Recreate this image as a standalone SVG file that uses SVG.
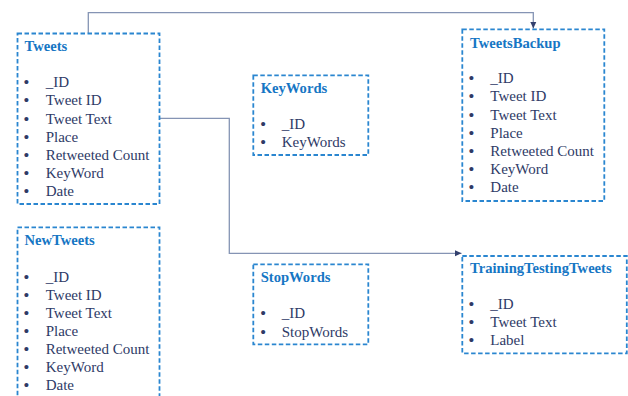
<svg xmlns="http://www.w3.org/2000/svg" width="628" height="396" viewBox="0 0 628 396">
<defs>
<marker id="arr" markerWidth="8" markerHeight="8" refX="7" refY="4" orient="auto" markerUnits="userSpaceOnUse">
<path d="M0,0.8 L7,4 L0,7.2 Z" fill="#33406e"/>
</marker>
<style>
.box{fill:#fff;stroke:#2a86d0;stroke-width:1.8;stroke-dasharray:4.5 2.5}
.title{font-family:"Liberation Serif",serif;font-weight:bold;font-size:14.6px;fill:#1676c4}
.item{font-family:"Liberation Serif",serif;font-size:15px;fill:#2e3a66}
.bul{font-family:"Liberation Serif",serif;font-size:15px;font-weight:bold;fill:#2e3a66;text-anchor:middle}
.conn{fill:none;stroke:#8594b4;stroke-width:1.3}
</style>
</defs>
<rect width="628" height="396" fill="#fff"/>
<g id="connectors">
<path class="conn" d="M88.3,33.5 V12.7 H533.3 V28.5" marker-end="url(#arr)"/>
<path class="conn" d="M159.5,118.3 H229.3 V253.3 H461.5" marker-end="url(#arr)"/>
</g>
<g id="tweets">
<rect class="box" x="17.5" y="33.5" width="142" height="170.5"/>
<text class="title" x="24.5" y="50.7">Tweets</text>
<g class="bul"><text x="26.3" y="87.3">•</text><text x="26.3" y="105.4">•</text><text x="26.3" y="123.5">•</text><text x="26.3" y="141.6">•</text><text x="26.3" y="159.7">•</text><text x="26.3" y="177.8">•</text><text x="26.3" y="195.9">•</text></g>
<g class="item"><text x="45.7" y="87.3">_ID</text><text x="45.7" y="105.4">Tweet ID</text><text x="45.7" y="123.5">Tweet Text</text><text x="45.7" y="141.6">Place</text><text x="45.7" y="159.7">Retweeted Count</text><text x="45.7" y="177.8">KeyWord</text><text x="45.7" y="195.9">Date</text></g>
</g>
<g id="tweetsbackup">
<rect class="box" x="462.3" y="29.3" width="142" height="171.7"/>
<text class="title" x="470" y="47.7">TweetsBackup</text>
<g class="bul"><text x="471.5" y="83.3">•</text><text x="471.5" y="101.4">•</text><text x="471.5" y="119.5">•</text><text x="471.5" y="137.6">•</text><text x="471.5" y="155.7">•</text><text x="471.5" y="173.8">•</text><text x="471.5" y="191.9">•</text></g>
<g class="item"><text x="490.3" y="83.3">_ID</text><text x="490.3" y="101.4">Tweet ID</text><text x="490.3" y="119.5">Tweet Text</text><text x="490.3" y="137.6">Place</text><text x="490.3" y="155.7">Retweeted Count</text><text x="490.3" y="173.8">KeyWord</text><text x="490.3" y="191.9">Date</text></g>
</g>
<g id="keywords">
<rect class="box" x="253.3" y="75.3" width="115" height="79.7"/>
<text class="title" x="260.7" y="93.3">KeyWords</text>
<g class="bul"><text x="263.1" y="129">•</text><text x="263.1" y="147">•</text></g>
<g class="item"><text x="281.7" y="129">_ID</text><text x="281.7" y="147">KeyWords</text></g>
</g>
<g id="newtweets">
<rect class="box" x="17.5" y="227.3" width="142" height="180"/>
<text class="title" x="24.5" y="245">NewTweets</text>
<g class="bul"><text x="26.3" y="281.7">•</text><text x="26.3" y="299.8">•</text><text x="26.3" y="317.9">•</text><text x="26.3" y="336">•</text><text x="26.3" y="354.1">•</text><text x="26.3" y="372.2">•</text><text x="26.3" y="390.3">•</text></g>
<g class="item"><text x="45.7" y="281.7">_ID</text><text x="45.7" y="299.8">Tweet ID</text><text x="45.7" y="317.9">Tweet Text</text><text x="45.7" y="336">Place</text><text x="45.7" y="354.1">Retweeted Count</text><text x="45.7" y="372.2">KeyWord</text><text x="45.7" y="390.3">Date</text></g>
</g>
<g id="stopwords">
<rect class="box" x="253.3" y="264.3" width="115" height="80"/>
<text class="title" x="260.7" y="281.7">StopWords</text>
<g class="bul"><text x="263.1" y="318.3">•</text><text x="263.1" y="336.7">•</text></g>
<g class="item"><text x="281.7" y="318.3">_ID</text><text x="281.7" y="336.7">StopWords</text></g>
</g>
<g id="trainingtestingtweets">
<rect class="box" x="462.3" y="256" width="164.5" height="97.3"/>
<text class="title" x="470" y="272.7">TrainingTestingTweets</text>
<g class="bul"><text x="471.5" y="309.3">•</text><text x="471.5" y="327.3">•</text><text x="471.5" y="345">•</text></g>
<g class="item"><text x="490.3" y="309.3">_ID</text><text x="490.3" y="327.3">Tweet Text</text><text x="490.3" y="345">Label</text></g>
</g>
</svg>
